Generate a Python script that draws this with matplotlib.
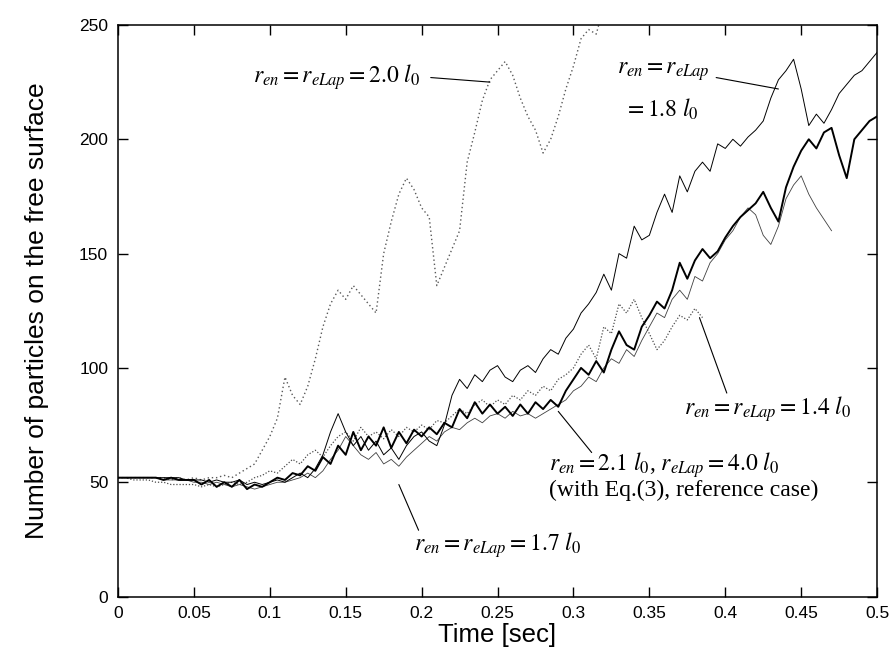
import numpy as np
import matplotlib
matplotlib.use("Agg")
import matplotlib.pyplot as plt

plt.rcParams['font.family'] = ['Liberation Sans', 'DejaVu Sans']
plt.rcParams['mathtext.fontset'] = 'stix'

# time grid shared by all runs (sampled every 0.005 s)
t_all = np.round(np.arange(101) * 0.005, 3)

# r_en = 2.1 l0, r_eLap = 4.0 l0 (reference case)
ref_vals = [52, 52, 52, 52, 52, 52, 51, 52, 51, 51,
            51, 49, 51, 48, 50, 48, 51, 47, 49, 48,
            50, 52, 51, 54, 53, 57, 55, 61, 58, 66,
            62, 72, 64, 70, 66, 74, 65, 72, 67, 73,
            70, 74, 71, 76, 74, 82, 78, 85, 80, 84,
            80, 83, 79, 84, 80, 85, 82, 86, 83, 90,
            95, 100, 97, 103, 98, 108, 116, 110, 108, 118,
            123, 129, 126, 134, 146, 139, 147, 152, 148, 151,
            157, 162, 166, 169, 172, 177, 170, 164, 179, 188,
            195, 200, 196, 203, 205, 193, 183, 200, 204, 208,
            210]

# r_en = r_eLap = 1.8 l0
r18_vals = [52, 52, 52, 52, 52, 52, 52, 52, 52, 51,
            51, 51, 50, 51, 50, 50, 51, 49, 50, 49,
            50, 51, 50, 52, 54, 52, 56, 62, 72, 80,
            72, 66, 70, 64, 68, 62, 65, 60, 66, 70,
            72, 68, 66, 75, 88, 95, 91, 97, 94, 99,
            101, 96, 94, 99, 101, 98, 104, 108, 106, 113,
            117, 124, 128, 133, 141, 134, 150, 148, 162, 156,
            158, 168, 176, 168, 184, 177, 186, 190, 186, 198,
            196, 200, 197, 201, 204, 208, 218, 226, 230, 235,
            222, 206, 211, 207, 213, 220, 224, 228, 230, 234,
            238]

# r_en = r_eLap = 1.7 l0
r17_vals = [52, 52, 52, 52, 52, 52, 51, 51, 51, 51,
            50, 50, 49, 50, 49, 48, 49, 48, 47, 48,
            49, 50, 50, 51, 52, 54, 52, 55, 60, 64,
            70, 66, 62, 60, 63, 58, 60, 57, 61, 64,
            67, 70, 68, 72, 74, 73, 76, 78, 76, 79,
            80, 78, 81, 79, 80, 78, 80, 82, 84, 86,
            90, 92, 96, 94, 100, 104, 102, 108, 105, 112,
            118, 124, 122, 130, 134, 130, 140, 138, 146, 150,
            156, 160, 166, 170, 167, 158, 154, 162, 174, 180,
            184, 176, 170, 165, 160]

# r_en = r_eLap = 1.4 l0
r14_vals = [52, 52, 51, 51, 51, 50, 50, 49, 49, 49,
            49, 48, 49, 48, 49, 50, 49, 50, 52, 53,
            55, 54, 57, 60, 58, 62, 64, 61, 66, 70,
            72, 68, 74, 70, 72, 69, 73, 70, 74, 72,
            75, 73, 77, 76, 79, 82, 80, 84, 86, 83,
            86, 84, 88, 86, 90, 88, 92, 90, 95, 97,
            100, 106, 110, 104, 118, 115, 128, 124, 130, 122,
            115, 108, 112, 118, 123, 121, 126, 122]

# r_en = r_eLap = 2.0 l0
r20_vals = [52, 52, 52, 52, 52, 52, 52, 51, 52, 51,
            52, 51, 52, 52, 53, 52, 54, 56, 58, 64,
            70, 78, 96, 88, 84, 92, 104, 118, 128, 134,
            130, 136, 132, 128, 124, 150, 164, 176, 183, 178,
            170, 166, 136, 144, 152, 160, 190, 203, 217, 226,
            230, 234, 228, 218, 210, 204, 194, 200, 210, 222,
            232, 244, 248, 246, 258]

x_ticks = [0, 0.05, 0.1, 0.15, 0.2, 0.25, 0.3, 0.35, 0.4, 0.45, 0.5]
x_tick_labels = ['0', '0.05', '0.1', '0.15', '0.2', '0.25', '0.3', '0.35', '0.4', '0.45', '0.5']
y_ticks = [0, 50, 100, 150, 200, 250]

fig = plt.figure(figsize=(8.91, 6.57), dpi=100)
ax = fig.add_axes([0.1324, 0.092, 0.852, 0.870])

ax.plot(t_all[:len(r20_vals)], r20_vals, color='0.35', lw=1.0, ls=(0, (1, 2)))
ax.plot(t_all[:len(r14_vals)], r14_vals, color='0.3', lw=0.9, ls=(0, (1, 1.5)))
ax.plot(t_all[:len(r17_vals)], r17_vals, color='0.25', lw=0.6)
ax.plot(t_all[:len(r18_vals)], r18_vals, color='black', lw=0.7)
ax.plot(t_all[:len(ref_vals)], ref_vals, color='black', lw=1.4)

ax.set_xlim(0, 0.5)
ax.set_ylim(0, 250)
ax.set_xticks(x_ticks)
ax.set_xticklabels(x_tick_labels)
ax.set_yticks(y_ticks)
ax.tick_params(direction='in', top=True, right=True, length=7, width=1,
               labelsize=12.5, pad=7)
for s in ax.spines.values():
    s.set_linewidth(1.1)

ax.set_xlabel('Time [sec]', fontsize=18.5, labelpad=1)
ax.set_ylabel('Number of particles on the free surface', fontsize=19, labelpad=22)

fs = 17
line = dict(arrowstyle='-', lw=0.8, color='black', shrinkA=0, shrinkB=0)

ax.text(0.089, 227, r'$r_{en} = r_{eLap} = 2.0\ l_0$', fontsize=fs, va='center')
ax.annotate('', xy=(0.245, 225), xytext=(0.206, 227), arrowprops=line)

ax.text(0.329, 229.5, r'$r_{en} = r_{eLap}$', fontsize=fs, va='center')
ax.text(0.333, 213, r'$= 1.8\ l_0$', fontsize=fs, va='center')
ax.annotate('', xy=(0.435, 222), xytext=(0.394, 227), arrowprops=line)

ax.text(0.373, 82, r'$r_{en} = r_{eLap} = 1.4\ l_0$', fontsize=fs, va='center')
ax.annotate('', xy=(0.383, 122), xytext=(0.401, 89), arrowprops=line)

ax.text(0.284, 53, '$r_{en} = 2.1\\ l_0$, $r_{eLap} = 4.0\\ l_0$\n(with Eq.(3), reference case)',
        fontsize=fs, va='center', family='Liberation Serif', linespacing=1.0)
ax.annotate('', xy=(0.290, 81), xytext=(0.312, 63), arrowprops=line)

ax.text(0.195, 22.6, r'$r_{en} = r_{eLap} = 1.7\ l_0$', fontsize=fs, va='center')
ax.annotate('', xy=(0.185, 49), xytext=(0.198, 29), arrowprops=line)

fig.savefig('out.png', dpi=100)
